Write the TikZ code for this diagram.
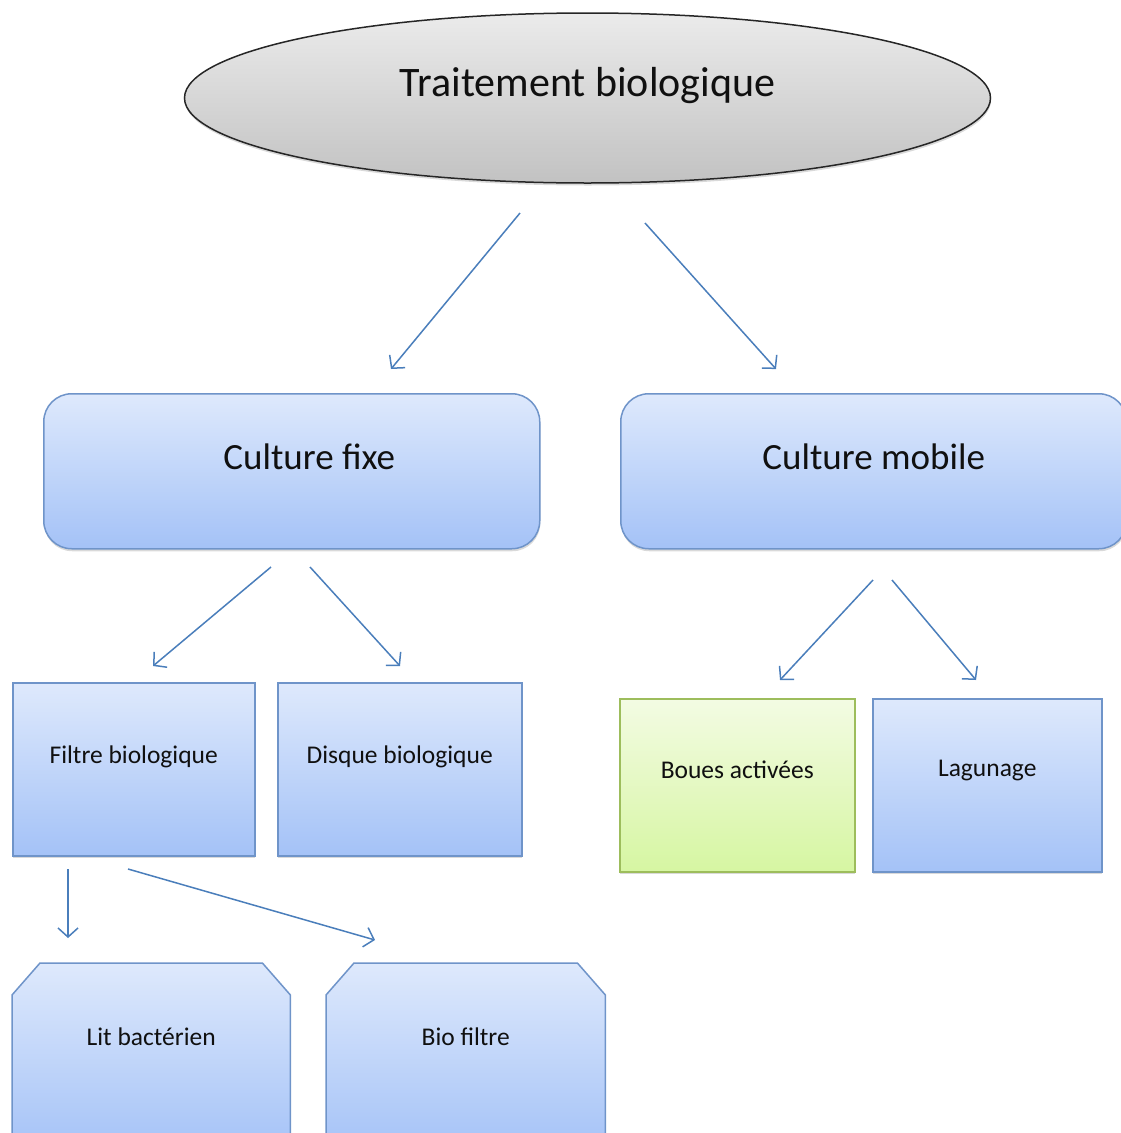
\documentclass[tikz,border=0pt]{standalone}
\usepackage{fontspec}
\setmainfont{Carlito}
\usetikzlibrary{shapes.geometric,arrows.meta,shadows,backgrounds}
\definecolor{boxtop}{HTML}{DEE9FC}
\definecolor{boxbot}{HTML}{A4C2F7}
\definecolor{boxline}{HTML}{6F94C9}
\definecolor{greentop}{HTML}{F3FBE3}
\definecolor{greenbot}{HTML}{D6F6A2}
\definecolor{greenline}{HTML}{9DBD5C}
\definecolor{arrowblue}{HTML}{4A7EBB}
\definecolor{ovaltop}{HTML}{EBEBEB}
\definecolor{ovalbot}{HTML}{C2C2C2}
\definecolor{inktext}{HTML}{101010}

\begin{document}
\begin{tikzpicture}[x=1pt,y=-1pt,
  softshadow/.style={drop shadow={shadow xshift=0.5pt, shadow yshift=-2.5pt, opacity=0.3}},
  oval/.style={ellipse, draw=black!85, line width=1.5pt, top color=ovaltop, bottom color=ovalbot,
    inner sep=0pt, softshadow, font=\fontsize{42pt}{48pt}\selectfont, text=inktext,
    text height=20pt, text depth=24pt},
  boxfill/.style={draw=boxline, line width=1.5pt, top color=boxtop, bottom color=boxbot, softshadow},
  bluebox/.style={rectangle, boxfill, inner sep=0pt, anchor=north west},
  greenbox/.style={bluebox, draw=greenline, top color=greentop, bottom color=greenbot},
  roundbox/.style={bluebox, rounded corners=28pt},
  snipframe/.style={rectangle, inner sep=0pt, anchor=north west},
  bigtext/.style={font=\fontsize{37pt}{44pt}\selectfont, text=inktext},
  smalltext/.style={font=\fontsize{25.5pt}{30pt}\selectfont, text=inktext},
  link/.style={draw=arrowblue, line width=1.5pt, -{Straight Barb[length=9pt,width=20pt,line width=1.5pt]}}
]
\useasboundingbox (0,0) rectangle (1121,1133);

% top level
\node[oval, minimum width=806pt, minimum height=170pt] (tb) at (587.5,98) {Traitement biologique};

% second level
\node[roundbox, minimum width=496pt, minimum height=155pt,
  label={[bigtext, xshift=17.5pt, yshift=14pt]center:Culture fixe}] (cf) at (43,393) {};
\node[roundbox, minimum width=506pt, minimum height=155pt,
  label={[bigtext, yshift=14pt]center:Culture mobile}] (cm) at (620,393) {};

% third level
\node[bluebox, minimum width=242pt, minimum height=173pt,
  label={[smalltext, yshift=12.5pt]center:Filtre biologique}] (fb) at (12,682) {};
\node[bluebox, minimum width=244pt, minimum height=173pt,
  label={[smalltext, yshift=12.5pt]center:Disque biologique}] (db) at (277,682) {};
\node[greenbox, minimum width=235pt, minimum height=173pt,
  label={[smalltext, yshift=15pt]center:Boues activées}] (ba) at (619,698) {};
\node[bluebox, minimum width=229pt, minimum height=173pt,
  label={[smalltext, yshift=15pt]center:Lagunage}] (lg) at (872,698) {};

% fourth level: boxes with both top corners cut off
\node[snipframe, minimum width=278pt, minimum height=190pt,
  label={[smalltext, yshift=21pt]center:Lit bactérien}] (lb) at (12,963) {};
\node[snipframe, minimum width=279pt, minimum height=190pt,
  label={[smalltext, yshift=21pt]center:Bio filtre}] (bf) at (326,963) {};
\begin{scope}[on background layer]
  \foreach \b in {lb,bf}
    \path[boxfill] (\b.south west) -- ([yshift=-32pt]\b.north west)
      -- ([xshift=28pt]\b.north west) -- ([xshift=-28pt]\b.north east)
      -- ([yshift=-32pt]\b.north east) -- (\b.south east) -- cycle;
\end{scope}

% free-standing arrow ends
\coordinate (tbL) at (520,213);   \coordinate (cfT) at (391,369);
\coordinate (tbR) at (645,223);   \coordinate (cmT) at (776,369);
\coordinate (cfL) at (271,567);   \coordinate (fbT) at (153,666);
\coordinate (cfR) at (310,567);   \coordinate (dbT) at (400,666);
\coordinate (cmL) at (873,580);   \coordinate (baT) at (780,680);
\coordinate (cmR) at (892,580);   \coordinate (lgT) at (976,680);
\coordinate (fbL) at (68,869);    \coordinate (lbT) at (68,938);
\coordinate (fbR) at (128,869);   \coordinate (bfT) at (375,940);

\draw[link] (tbL) -- (cfT);
\draw[link] (tbR) -- (cmT);
\draw[link] (cfL) -- (fbT);
\draw[link] (cfR) -- (dbT);
\draw[link] (cmL) -- (baT);
\draw[link] (cmR) -- (lgT);
\draw[link] (fbL) -- (lbT);
\draw[link] (fbR) -- (bfT);
\end{tikzpicture}
\end{document}
